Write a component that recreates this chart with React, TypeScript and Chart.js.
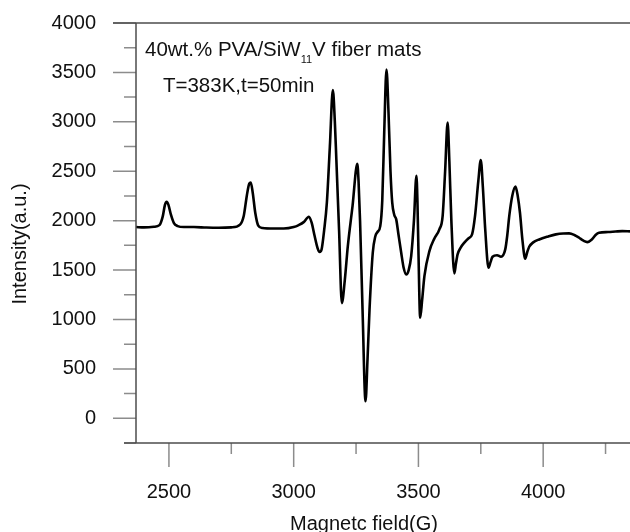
import React, { useEffect, useRef } from "react";
import { Chart, registerables } from "chart.js";

Chart.register(...registerables);

// Magnetic field (G)
const fieldG = [
  2368, 2400, 2440, 2462, 2475, 2484, 2491, 2498, 2508, 2520, 2535, 2560, 2600, 2650, 2700, 2750,
  2785, 2800, 2812, 2822, 2828, 2836, 2846, 2858, 2875, 2920, 2960, 3000, 3020, 3040, 3061, 3072,
  3084, 3096, 3104, 3112, 3122, 3133, 3145, 3157, 3165, 3171, 3182, 3193, 3205, 3217, 3236, 3255,
  3260, 3266, 3276, 3288, 3296, 3304, 3317, 3327, 3336, 3347, 3355, 3363, 3372, 3380, 3388, 3395,
  3403, 3411, 3420, 3431, 3441, 3451, 3461, 3471, 3482, 3492, 3496, 3500, 3507, 3515, 3524, 3544,
  3564, 3584, 3597, 3607, 3617, 3624, 3632, 3644, 3650, 3657, 3670, 3684, 3700, 3715, 3727, 3740,
  3750, 3758, 3768, 3781, 3789, 3797, 3815, 3831, 3848, 3856, 3864, 3876, 3889, 3898, 3907, 3917,
  3928, 3936, 3944, 3960, 3984, 4020, 4051, 4080, 4104, 4125, 4144, 4160, 4177, 4195, 4210, 4224,
  4260, 4290, 4317, 4348,
];

// Intensity (a.u.)
const intensity = [
  1935, 1932, 1938, 1955, 2040, 2160, 2190, 2160, 2060, 1975, 1945, 1935, 1935, 1930, 1928, 1932,
  1960, 2050, 2250, 2375, 2385, 2280, 2080, 1950, 1925, 1920, 1920, 1935, 1955, 1985, 2040, 1980,
  1844, 1720, 1682, 1710, 1900, 2182, 2750, 3322, 3000, 2620, 1900, 1165, 1400, 1742, 2150, 2575,
  2400, 2000, 1100, 172, 600, 1101, 1675, 1840, 1885, 1945, 2200, 2900, 3530, 3100, 2500, 2182,
  2060, 2013, 1860, 1675, 1520, 1456, 1500, 1641, 2000, 2455, 2200, 1700, 1017, 1200, 1439, 1692,
  1820, 1912, 2046, 2500, 2992, 2600, 2000, 1466, 1560, 1658, 1730, 1777, 1820, 1861, 2050, 2400,
  2614, 2350, 1900, 1523, 1580, 1635, 1650, 1635, 1709, 1850, 2046, 2250, 2344, 2250, 2080, 1800,
  1615, 1680, 1736, 1780, 1810, 1840, 1861, 1870, 1871, 1855, 1827, 1800, 1783, 1810, 1855, 1878,
  1885, 1890, 1894, 1891,
];

const yMajorTicks = [0, 500, 1000, 1500, 2000, 2500, 3000, 3500, 4000];
const yMinorTicks = [-250, 250, 750, 1250, 1750, 2250, 2750, 3250, 3750];
const xMajorTicks = [2500, 3000, 3500, 4000];
const xMinorTicks = [2750, 3250, 3750, 4250];
const xRange = [2368, 4348];
const yRange = [-250, 4000];

const xTitle = "Magnetc field(G)";
const yTitle = "Intensity(a.u.)";
const noteLine1 = ["40wt.% PVA/SiW", "11", "V fiber mats"];
const noteLine2 = "T=383K,t=50min";
// annotation anchors in data coordinates (field, intensity)
const noteAnchor1 = [2404, 3664];
const noteAnchor2 = [2476, 3299];

const FONT = '"Liberation Sans", Arial, sans-serif';

const decorPlugin = {
  id: "decor",
  afterDraw(chart: any) {
    const { ctx, chartArea, scales } = chart;
    const { left, right, top, bottom } = chartArea;
    const x = scales.x;
    const y = scales.y;
    ctx.save();
    // ticks
    ctx.lineWidth = 1.5;
    ctx.strokeStyle = "#8c8c8c";
    ctx.beginPath();
    yMajorTicks.forEach((v) => {
      const py = y.getPixelForValue(v);
      ctx.moveTo(left - 23, py);
      ctx.lineTo(left, py);
    });
    yMinorTicks.forEach((v) => {
      const py = y.getPixelForValue(v);
      ctx.moveTo(left - 12, py);
      ctx.lineTo(left, py);
    });
    xMajorTicks.forEach((v) => {
      const px = x.getPixelForValue(v);
      ctx.moveTo(px, bottom);
      ctx.lineTo(px, bottom + 24);
    });
    xMinorTicks.forEach((v) => {
      const px = x.getPixelForValue(v);
      ctx.moveTo(px, bottom);
      ctx.lineTo(px, bottom + 11);
    });
    ctx.stroke();

    // axes
    ctx.strokeStyle = "#4d4d4d";
    ctx.beginPath();
    ctx.moveTo(left, top);
    ctx.lineTo(left, bottom);
    ctx.moveTo(left - 23, top);
    ctx.lineTo(right, top);
    ctx.moveTo(left - 12, bottom);
    ctx.lineTo(right, bottom);
    ctx.stroke();

    // annotation
    ctx.fillStyle = "#111";
    ctx.textBaseline = "alphabetic";
    ctx.textAlign = "left";
    ctx.font = `20.5px ${FONT}`;
    let ax = x.getPixelForValue(noteAnchor1[0]);
    const ay = y.getPixelForValue(noteAnchor1[1]);
    ctx.fillText(noteLine1[0], ax, ay);
    ax += ctx.measureText(noteLine1[0]).width;
    ctx.font = `11px ${FONT}`;
    ctx.fillText(noteLine1[1], ax, ay + 7);
    ax += ctx.measureText(noteLine1[1]).width;
    ctx.font = `20.5px ${FONT}`;
    ctx.fillText(noteLine1[2], ax, ay);
    ctx.fillText(noteLine2, x.getPixelForValue(noteAnchor2[0]), y.getPixelForValue(noteAnchor2[1]));

    // axis titles
    ctx.font = `20px ${FONT}`;
    ctx.textAlign = "center";
    ctx.fillText(xTitle, (left + right) / 2 - 19, bottom + 87);
    ctx.translate(26, (top + bottom) / 2 + 11);
    ctx.rotate(-Math.PI / 2);
    ctx.fillText(yTitle, 0, 0);
    ctx.restore();
  },
};

export default function App() {
  const ref = useRef<HTMLCanvasElement | null>(null);
  useEffect(() => {
    if (!ref.current) return;
    const chart = new Chart(ref.current, {
      type: "line",
      data: {
        datasets: [
          {
            data: fieldG.map((f, i) => ({ x: f, y: intensity[i] })),
            borderColor: "#000",
            borderWidth: 2.6,
            pointRadius: 0,
            fill: false,
            cubicInterpolationMode: "monotone",
          },
        ],
      },
      options: {
        animation: false,
        responsive: false,
        events: [],
        layout: { padding: { left: 0, right: 0, top: 23, bottom: 0 } },
        plugins: { legend: { display: false }, tooltip: { enabled: false } },
        scales: {
          x: {
            type: "linear",
            min: xRange[0],
            max: xRange[1],
            afterFit: (s: any) => {
              s.height = 89;
              s.paddingLeft = 0;
              s.paddingRight = 0;
            },
            afterBuildTicks: (s: any) => {
              s.ticks = xMajorTicks.map((v) => ({ value: v }));
            },
            grid: { display: false, drawTicks: false, tickLength: 0 },
            border: { display: false },
            ticks: {
              padding: 37,
              maxRotation: 0,
              autoSkip: false,
              color: "#111",
              font: { family: FONT, size: 20 },
              callback: (v: any) => String(v),
            },
          },
          y: {
            type: "linear",
            min: yRange[0],
            max: yRange[1],
            afterFit: (s: any) => {
              s.width = 136;
              s.paddingTop = 0;
              s.paddingBottom = 0;
            },
            afterBuildTicks: (s: any) => {
              s.ticks = yMajorTicks.map((v) => ({ value: v }));
            },
            grid: { display: false, drawTicks: false, tickLength: 0 },
            border: { display: false },
            ticks: {
              padding: 40,
              autoSkip: false,
              color: "#111",
              font: { family: FONT, size: 20 },
              callback: (v: any) => String(v),
            },
          },
        },
      },
      plugins: [decorPlugin],
    });
    return () => chart.destroy();
  }, []);
  return (
    <div style={{ position: "fixed", left: 0, top: 0, width: 630, height: 532, background: "#fff" }}>
      <canvas ref={ref} width={630} height={532} />
    </div>
  );
}
